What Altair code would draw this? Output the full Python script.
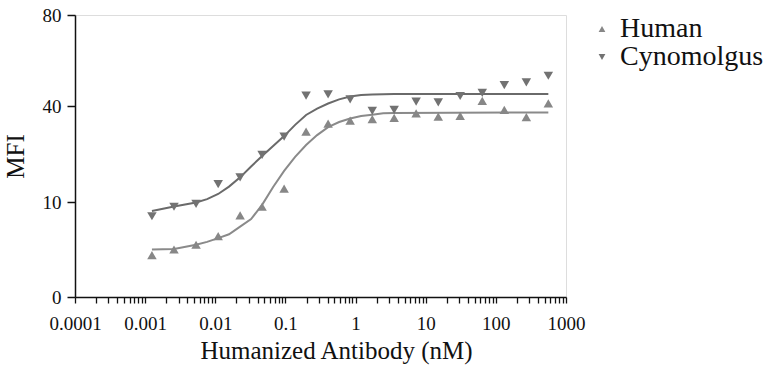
import altair as alt
import pandas as pd

# Measured data (nM, MFI)
conc = [0.00125, 0.00258, 0.00532, 0.011, 0.0226, 0.0465, 0.0958, 0.197, 0.406, 0.837,
        1.73, 3.55, 7.3, 15.1, 31.0, 64.0, 132.0, 272.0, 560.0]
human = [4.4, 5.0, 5.5, 6.4, 8.6, 9.5, 14.2, 32.0, 34.5, 35.4,
         35.9, 36.3, 37.7, 36.7, 36.9, 42.3, 38.8, 36.5, 41.2]
cyno = [8.5, 9.5, 9.8, 15.6, 17.7, 24.7, 30.4, 44.6, 45.1, 42.9,
        38.5, 38.8, 41.9, 41.6, 44.4, 45.8, 49.2, 50.4, 53.3]

# Fitted curves
fit_conc = [0.00125, 0.00258, 0.00532, 0.00764, 0.011, 0.0157, 0.0226, 0.0324, 0.0465, 0.0668,
            0.0958, 0.1375, 0.197, 0.283, 0.406, 0.583, 0.837, 1.2, 1.73, 2.48, 3.55, 560.0]
human_fit = [5.0, 5.05, 5.5, 5.8, 6.2, 6.6, 7.4, 8.2, 9.7, 14.7,
             19.7, 24.1, 27.8, 30.9, 33.4, 35.0, 36.1, 36.9, 37.3, 37.7, 37.8, 38.0]
cyno_fit = [9.05, 9.53, 9.95, 10.9, 12.5, 14.8, 17.7, 21.1, 24.4, 27.5,
            30.6, 34.1, 37.2, 39.2, 41.1, 42.9, 44.2, 44.8, 45.1, 45.2, 45.3, 45.3]

series_names = ["Human", "Cynomolgus"]
y_ticks = [0, 10, 40, 80]
x_decades = [0.0001, 0.001, 0.01, 0.1, 1, 10, 100, 1000]
x_minor_mult = [2, 3, 4, 5, 6, 7, 8, 9]
x_ticks = sorted(x_decades + [round(d * m, 7) for d in x_decades[:-1] for m in x_minor_mult])

W, H = 491, 282
FONT = "Liberation Serif"

pts = pd.DataFrame({
    "conc": conc + conc,
    "mfi": human + cyno,
    "series": ["Human"] * len(conc) + ["Cynomolgus"] * len(conc),
})
hfit = pd.DataFrame({"conc": fit_conc, "mfi": human_fit})
cfit = pd.DataFrame({"conc": fit_conc, "mfi": cyno_fit})

xscale = alt.Scale(type="log", domain=[0.0001, 1000], nice=False)
yscale = alt.Scale(domain=[0, 10, 40, 80], range=[H, 187, 91, 0], zero=False, nice=False)

xenc = alt.X("conc:Q", scale=xscale, axis=alt.Axis(
    title="Humanized Antibody (nM)", values=x_ticks, format="~g",
    labelExpr="abs(log(datum.value)/LN10 - round(log(datum.value)/LN10)) < 0.000001 ? datum.label : ''",
    grid=False, tickSize=6, labelPadding=11, labelFontSize=19, labelFont=FONT,
    labelColor="#111111", titleFont=FONT, titleFontSize=25, titleFontWeight="normal",
    titleColor="#111111", titleX=261, titlePadding=5, domainColor="#111111",
    tickColor="#111111", domainWidth=1.5, tickWidth=1.3, labelOverlap=False,
    labelFlush=False))
yenc = alt.Y("mfi:Q", scale=yscale, axis=alt.Axis(
    title="MFI", values=y_ticks, grid=False, tickSize=8, labelPadding=6,
    labelFontSize=19, labelFont=FONT, labelColor="#111111", titleFont=FONT,
    titleFontSize=25, titleFontWeight="normal", titleColor="#111111", titlePadding=14,
    domainColor="#111111", tickColor="#111111", domainWidth=1.5, tickWidth=1.5))

line_h = alt.Chart(hfit).mark_line(color="#8a8a8a", strokeWidth=2).encode(x=xenc, y=yenc)
line_c = alt.Chart(cfit).mark_line(color="#6a6a6a", strokeWidth=2).encode(x=xenc, y=yenc)

leg = alt.Legend(title=None, orient="none", legendX=513, legendY=0,
                 labelFont=FONT, labelFontSize=28, labelColor="#111111",
                 symbolSize=45, labelOffset=4, rowPadding=-9, padding=0)

points = alt.Chart(pts).mark_point(filled=True, size=90, opacity=1).encode(
    x=xenc, y=yenc,
    color=alt.Color("series:N", scale=alt.Scale(domain=series_names, range=["#878787", "#727272"]),
                    legend=leg),
    shape=alt.Shape("series:N", scale=alt.Scale(domain=series_names, range=["triangle-up", "triangle-down"]),
                    legend=leg),
)

chart = alt.layer(line_h, line_c, points).properties(
    width=W, height=H,
    autosize=alt.AutoSizeParams(type="none"),
    padding={"left": 75, "top": 15, "right": 207, "bottom": 73},
).configure_view(stroke=None).configure(background="white")

chart.save("out.html", embed_options={"renderer": "svg", "actions": False})
